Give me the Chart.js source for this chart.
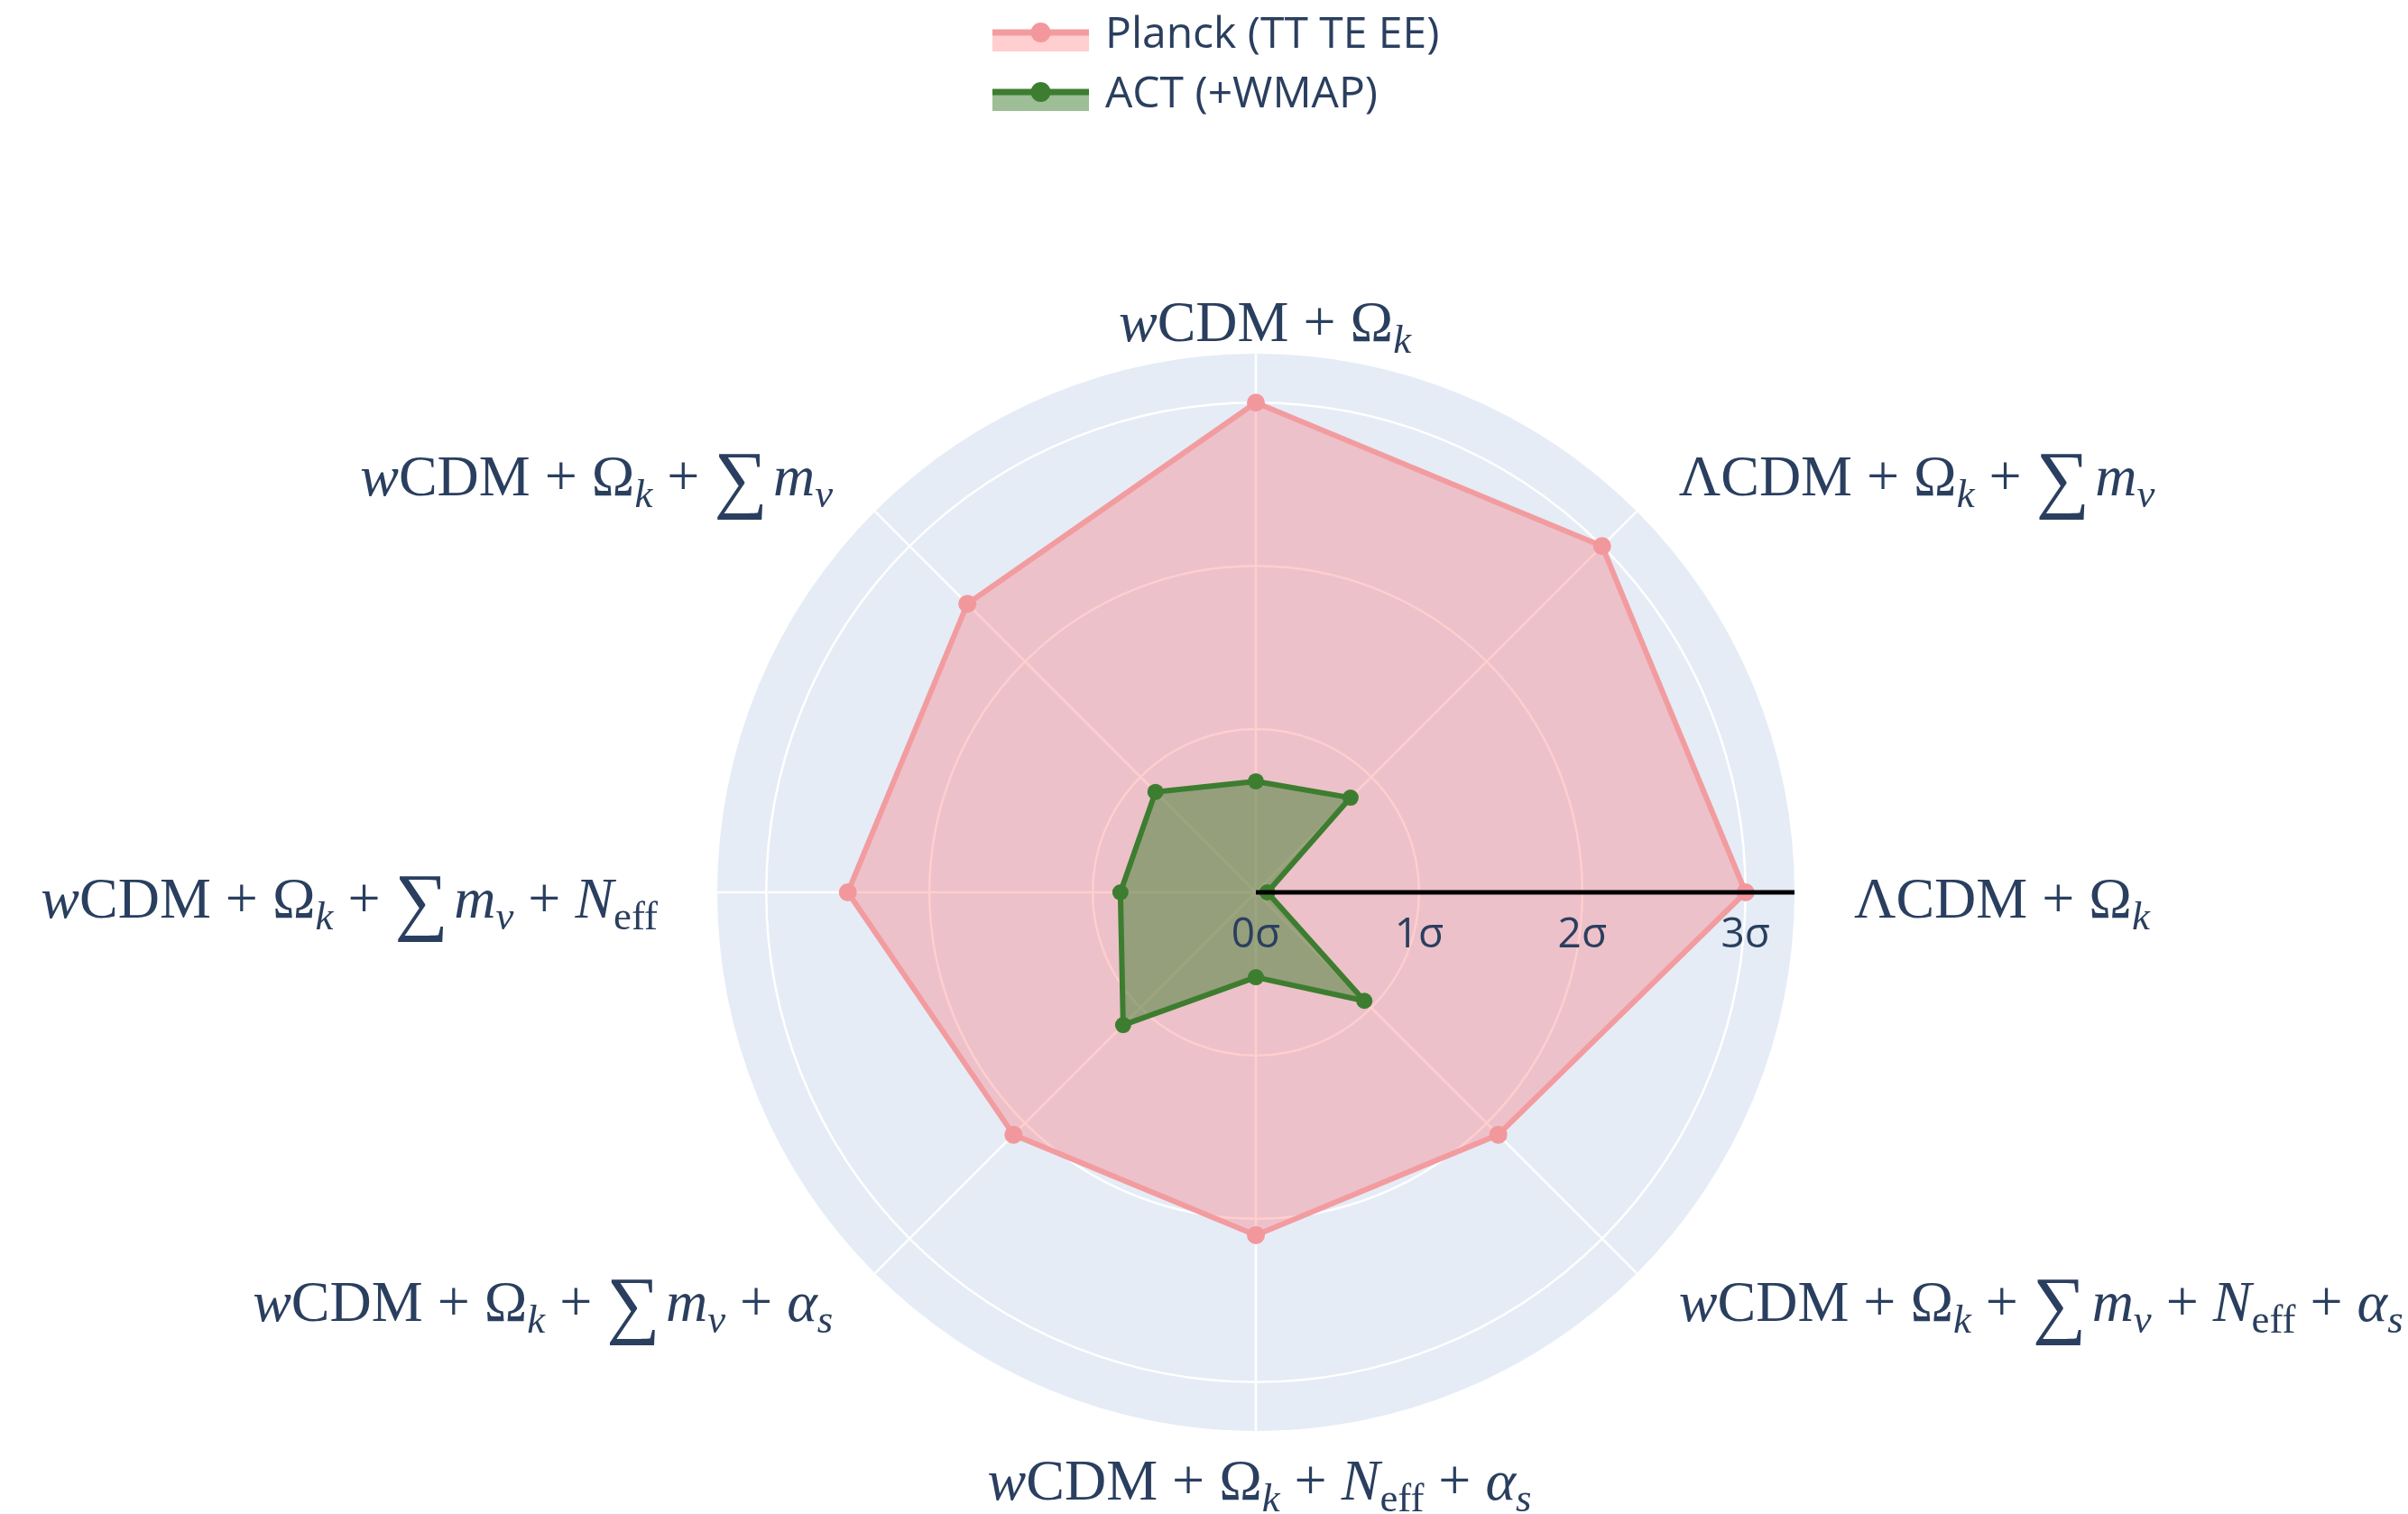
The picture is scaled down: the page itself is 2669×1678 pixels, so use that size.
<!DOCTYPE html>
<html>
<head>
<meta charset="utf-8">
<title>Tension radar</title>
<script src="https://cdn.jsdelivr.net/npm/chart.js@4.4.1/dist/chart.umd.min.js"></script>
<style>
  html, body { margin: 0; padding: 0; background: #ffffff; }
  canvas { display: block; }
</style>
</head>
<body>
<canvas id="chart" width="2669" height="1678"></canvas>
<script>
// Model extensions, going clockwise from the right-hand spoke.
// Markup: *...* italic, _{...} subscript, ∑ drawn large.
const categories = [
  'ΛCDM + Ω_{*k*}',
  '*w*CDM + Ω_{*k*} + ∑*m*_{*ν*} + *N*_{eff} + *α*_{*s*}',
  '*w*CDM + Ω_{*k*} + *N*_{eff} + *α*_{*s*}',
  '*w*CDM + Ω_{*k*} + ∑*m*_{*ν*} + *α*_{*s*}',
  '*w*CDM + Ω_{*k*} + ∑*m*_{*ν*} + *N*_{eff}',
  '*w*CDM + Ω_{*k*} + ∑*m*_{*ν*}',
  '*w*CDM + Ω_{*k*}',
  'ΛCDM + Ω_{*k*} + ∑*m*_{*ν*}'
];

// Tension in units of sigma
const planckSigma = [3.0, 2.1, 2.1, 2.1, 2.5, 2.5, 3.0, 3.0];
const actSigma    = [0.07, 0.94, 0.52, 1.15, 0.83, 0.87, 0.68, 0.82];

const seriesNames = ['Planck (TT TE EE)', 'ACT (+WMAP)'];
const sigmaTicks = [0, 1, 2, 3];
const sigmaTickLabels = ['0σ', '1σ', '2σ', '3σ'];
const radialMax = 3.3;

const TEXT_COLOR = '#2a3f5f';
const SANS = '"Open Sans", "Noto Sans", sans-serif';
const SERIF = '"Liberation Serif", "DejaVu Serif", serif';
const LABEL_SIZE = 64;

// ---- rich text for the math-style spoke labels ----
function parseRich(s) {
  const runs = [];
  let italic = false, sub = false, buf = '';
  const push = () => { if (buf) { runs.push({ text: buf, italic, sub }); buf = ''; } };
  for (let i = 0; i < s.length; i++) {
    const ch = s[i];
    if (ch === '*') { push(); italic = !italic; }
    else if (ch === '_' && s[i + 1] === '{') { push(); sub = true; i++; }
    else if (ch === '}' && sub) { push(); sub = false; }
    else if (ch === '∑') { push(); runs.push({ text: '∑', big: true }); }
    else buf += ch;
  }
  push();
  return runs;
}

function runFont(r) {
  const size = r.big ? LABEL_SIZE * 1.3 : (r.sub ? LABEL_SIZE * 0.7 : LABEL_SIZE);
  return (r.italic ? 'italic ' : '') + size + 'px ' + SERIF;
}

function layoutRuns(ctx, runs) {
  let x = 0;
  const items = runs.map(r => {
    ctx.font = runFont(r);
    const w = ctx.measureText(r.text).width;
    const it = Object.assign({}, r, { x, w });
    x += w + (r.big ? LABEL_SIZE * 0.1 : 0);
    return it;
  });
  return { items, width: x };
}

function drawRuns(ctx, laid, x0, baseline) {
  ctx.fillStyle = TEXT_COLOR;
  ctx.textAlign = 'left';
  ctx.textBaseline = 'alphabetic';
  laid.items.forEach(it => {
    ctx.font = runFont(it);
    let dy = 0;
    if (it.sub) dy = LABEL_SIZE * 0.2;
    if (it.big) dy = LABEL_SIZE * 0.14;
    ctx.fillText(it.text, x0 + it.x, baseline + dy);
  });
}

// ---- plugin: radial axis line, sigma ticks, spoke labels, legend ----
const polarDecor = {
  id: 'polarDecor',
  afterDatasetsDraw(chart) {
    const ctx = chart.ctx;
    const r = chart.scales.r;
    const end = r.getPointPositionForValue(0, radialMax);
    ctx.save();
    ctx.strokeStyle = '#000000';
    ctx.lineWidth = 5;
    ctx.beginPath();
    ctx.moveTo(r.xCenter, r.yCenter);
    ctx.lineTo(end.x, end.y);
    ctx.stroke();

    ctx.font = '46px ' + SANS;
    ctx.fillStyle = TEXT_COLOR;
    ctx.textAlign = 'center';
    ctx.textBaseline = 'alphabetic';
    sigmaTicks.forEach((v, k) => {
      const p = r.getPointPositionForValue(0, v);
      ctx.fillText(sigmaTickLabels[k], p.x, r.yCenter + 61);
    });
    ctx.restore();
  },
  afterDraw(chart) {
    const ctx = chart.ctx;
    const r = chart.scales.r;
    const R = r.drawingArea, cx = r.xCenter, cy = r.yCenter;
    const capHalf = LABEL_SIZE * 0.33;
    ctx.save();
    categories.forEach((lab, i) => {
      const a = r.getIndexAngle(i) - Math.PI / 2;
      const c = Math.cos(a), s = Math.sin(a);
      const laid = layoutRuns(ctx, parseRich(lab));
      let x, base;
      if (Math.abs(c) < 0.2) {
        x = cx - laid.width / 2 + (s < 0 ? 10 : 4);
        base = s < 0 ? cy - R - 14 : cy + R + 76;
      } else {
        const d = R + 66;
        const ax = cx + c * d, ay = cy + s * d;
        x = c > 0 ? ax : ax - laid.width;
        const mid = ay + (Math.abs(s) < 0.2 ? 7 : (s < 0 ? 8 : -15));
        base = mid + capHalf;
      }
      drawRuns(ctx, laid, x, base);
    });

    // legend
    const x0 = 1100, x1 = 1207, textX = 1225;
    chart.data.datasets.forEach((ds, k) => {
      const y = 36 + k * 66;
      ctx.fillStyle = ds.backgroundColor;
      ctx.fillRect(x0, y, x1 - x0, 21);
      ctx.strokeStyle = ds.borderColor;
      ctx.lineWidth = 7;
      ctx.beginPath();
      ctx.moveTo(x0, y);
      ctx.lineTo(x1, y);
      ctx.stroke();
      ctx.fillStyle = ds.pointBackgroundColor;
      ctx.beginPath();
      ctx.arc((x0 + x1) / 2, y, 11, 0, Math.PI * 2);
      ctx.fill();
      ctx.font = '48px ' + SANS;
      ctx.fillStyle = TEXT_COLOR;
      ctx.textAlign = 'left';
      ctx.textBaseline = 'middle';
      ctx.fillText(ds.label, textX, y + 3);
    });
    ctx.restore();
  }
};

// the trace path is open: no stroke on the segment that closes the loop
const openLoop = color => (ctx => (ctx.p0DataIndex === 0 && ctx.p1DataIndex === 1) ? 'rgba(0,0,0,0)' : color);

const planckLine = 'rgb(242,156,160)';
const actLine = 'rgb(61,125,48)';

new Chart(document.getElementById('chart'), {
  type: 'radar',
  data: {
    labels: categories,
    datasets: [
      {
        label: seriesNames[0],
        data: planckSigma,
        order: 2,
        fill: true,
        backgroundColor: 'rgba(255,97,101,0.31)',
        borderColor: planckLine,
        borderWidth: 6,
        borderJoinStyle: 'round',
        segment: { borderColor: openLoop(planckLine) },
        pointRadius: 10,
        pointBorderWidth: 0,
        pointBackgroundColor: 'rgb(242,152,156)'
      },
      {
        label: seriesNames[1],
        data: actSigma,
        order: 1,
        fill: true,
        backgroundColor: 'rgba(61,125,48,0.5)',
        borderColor: actLine,
        borderWidth: 6,
        borderJoinStyle: 'round',
        segment: { borderColor: openLoop(actLine) },
        pointRadius: 9,
        pointBorderWidth: 0,
        pointBackgroundColor: actLine
      }
    ]
  },
  options: {
    responsive: false,
    animation: false,
    events: [],
    layout: { padding: { left: 795, right: 680, top: 392, bottom: 92 } },
    elements: { line: { tension: 0 } },
    plugins: { legend: { display: false }, tooltip: { enabled: false } },
    scales: {
      r: {
        min: 0,
        max: radialMax,
        startAngle: 90,
        backgroundColor: '#E5ECF6',
        grid: { circular: true, color: '#ffffff', lineWidth: 2.5 },
        angleLines: { color: '#ffffff', lineWidth: 2.5 },
        ticks: { display: false, stepSize: 1 },
        pointLabels: { display: false },
        afterBuildTicks: scale => { scale.ticks = sigmaTicks.map(v => ({ value: v })); }
      }
    }
  },
  plugins: [polarDecor]
});
</script>
</body>
</html>
